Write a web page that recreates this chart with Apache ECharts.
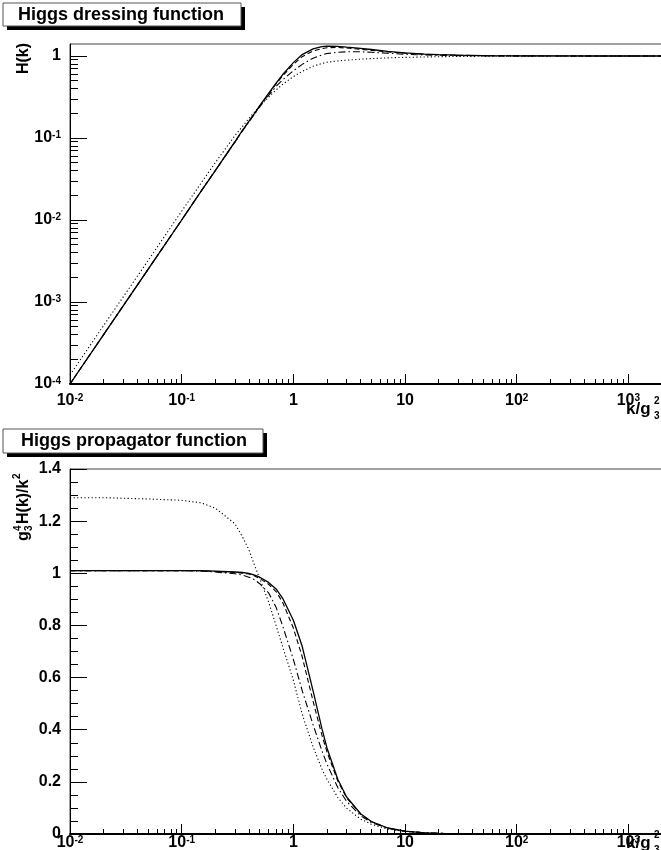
<!DOCTYPE html>
<html>
<head>
<meta charset="utf-8">
<script src="https://cdn.jsdelivr.net/npm/echarts@6/dist/echarts.min.js"></script>
<style>
html,body{margin:0;padding:0;background:#fff;}
#chart{width:661px;height:850px;}
</style>
</head>
<body>
<div id="chart"></div>
<script>
// k / g3^2 sample points
const kVals = [0.01, 0.02, 0.05, 0.1, 0.15, 0.2, 0.3, 0.35, 0.4, 0.45, 0.5, 0.6, 0.7, 0.8, 1, 1.2, 1.5, 1.8, 2, 2.5, 3, 4, 5, 7, 10, 15, 20, 30, 50, 100, 200, 500, 1000, 2000];

// Higgs dressing function H(k) (top panel)
const hSolid   = [1.0e-4, 4.0e-4, 2.5e-3, 1.0e-2, 0.0227, 0.040, 0.090, 0.1235, 0.160, 0.200, 0.248, 0.350, 0.465, 0.590, 0.83, 1.04, 1.22, 1.30, 1.32, 1.31, 1.28, 1.24, 1.20, 1.14, 1.09, 1.055, 1.038, 1.022, 1.011, 1.005, 1.002, 1.0, 1.0, 1.0];
const hDashed  = [1.0e-4, 4.0e-4, 2.5e-3, 1.0e-2, 0.0227, 0.0402, 0.090, 0.123, 0.159, 0.199, 0.245, 0.345, 0.455, 0.570, 0.79, 0.98, 1.15, 1.23, 1.26, 1.27, 1.25, 1.21, 1.17, 1.12, 1.08, 1.05, 1.035, 1.02, 1.01, 1.004, 1.001, 1.0, 1.0, 1.0];
const hDashDot = [1.0e-4, 4.0e-4, 2.5e-3, 1.0e-2, 0.0227, 0.0401, 0.089, 0.122, 0.157, 0.197, 0.240, 0.330, 0.425, 0.510, 0.66, 0.79, 0.94, 1.03, 1.07, 1.11, 1.125, 1.125, 1.11, 1.08, 1.05, 1.03, 1.02, 1.01, 1.005, 1.002, 1.0, 1.0, 1.0, 1.0];
const hDotted  = [1.29e-4, 5.16e-4, 3.2e-3, 0.0128, 0.0285, 0.050, 0.107, 0.138, 0.173, 0.209, 0.245, 0.315, 0.385, 0.450, 0.56, 0.65, 0.75, 0.81, 0.84, 0.87, 0.89, 0.915, 0.93, 0.948, 0.962, 0.973, 0.98, 0.987, 0.992, 0.996, 0.998, 1.0, 1.0, 1.0];

// Higgs propagator function g3^4 H(k)/k^2 (bottom panel)
const dSolid   = [1.01, 1.01, 1.01, 1.01, 1.01, 1.008, 1.005, 1.003, 1.0, 0.993, 0.985, 0.965, 0.94, 0.905, 0.82, 0.72, 0.55, 0.405, 0.33, 0.21, 0.142, 0.078, 0.048, 0.023, 0.011, 0.0047, 0.0026, 0.0011, 0.0004, 0.0001, 0, 0, 0, 0];
const dDashed  = [1.01, 1.01, 1.01, 1.01, 1.01, 1.007, 1.003, 1.0, 0.997, 0.99, 0.98, 0.958, 0.93, 0.89, 0.79, 0.68, 0.51, 0.38, 0.315, 0.203, 0.139, 0.076, 0.047, 0.0228, 0.0108, 0.0046, 0.0026, 0.0011, 0.0004, 0.0001, 0, 0, 0, 0];
const dDashDot = [1.01, 1.01, 1.01, 1.01, 1.008, 1.005, 0.998, 0.993, 0.985, 0.975, 0.96, 0.925, 0.87, 0.80, 0.67, 0.55, 0.42, 0.32, 0.268, 0.178, 0.125, 0.07, 0.044, 0.022, 0.0105, 0.0046, 0.0025, 0.0011, 0.0004, 0.0001, 0, 0, 0, 0];
const dDotted  = [1.29, 1.29, 1.285, 1.28, 1.27, 1.25, 1.19, 1.14, 1.09, 1.03, 0.98, 0.89, 0.80, 0.72, 0.59, 0.46, 0.335, 0.25, 0.21, 0.14, 0.099, 0.057, 0.037, 0.019, 0.0096, 0.0043, 0.0025, 0.0011, 0.0004, 0.0001, 0, 0, 0, 0];

// tick values
const xMajorTicks = [0.01, 0.1, 1, 10, 100, 1000];
const xMinorTicks = [0.02,0.03,0.04,0.05,0.06,0.07,0.08,0.09, 0.2,0.3,0.4,0.5,0.6,0.7,0.8,0.9, 2,3,4,5,6,7,8,9, 20,30,40,50,60,70,80,90, 200,300,400,500,600,700,800,900, 2000];
const yLogMajorTicks = [1e-4, 1e-3, 1e-2, 1e-1, 1];
const yLogMinorTicks = [2e-4,3e-4,4e-4,5e-4,6e-4,7e-4,8e-4,9e-4, 2e-3,3e-3,4e-3,5e-3,6e-3,7e-3,8e-3,9e-3, 0.02,0.03,0.04,0.05,0.06,0.07,0.08,0.09, 0.2,0.3,0.4,0.5,0.6,0.7,0.8,0.9];

const FONT = 'Liberation Sans, Arial, Helvetica, sans-serif';

function powLabel(v) {
  const e = Math.round(Math.log10(v));
  if (e === 0) return '1';
  if (e === 1) return '10';
  return '10{sup|' + e + '}';
}

const richSup = { sup: { fontSize: 10, fontWeight: 'bold', fontFamily: FONT, color: '#000', verticalAlign: 'top', lineHeight: 10 } };

function pairs(arr) { return kVals.map((k, i) => [k, arr[i]]); }

const styles = [
  { type: 'solid', w: 1.3 },
  { type: [5, 3], w: 1.1 },
  { type: [7, 3, 1.5, 3], w: 1.1 },
  { type: [1.2, 2.4], w: 1.1 }
];

function mkSeries(arrs, xi, yi) {
  return arrs.map((arr, i) => ({
    type: 'line',
    xAxisIndex: xi,
    yAxisIndex: yi,
    data: pairs(arr),
    showSymbol: false,
    symbol: 'none',
    smooth: false,
    lineStyle: { color: '#000', width: styles[i].w, type: styles[i].type },
    silent: true,
    z: 5 - i
  }));
}

function xMajor(grid, margin) {
  return {
    type: 'log', logBase: 10, gridIndex: grid, position: 'bottom', min: 0.01, max: 2000,
    axisLine: { show: true, onZero: false, lineStyle: { color: '#000', width: 2 } },
    axisTick: { show: true, inside: true, length: 10, customValues: xMajorTicks, lineStyle: { color: '#000', width: 1 } },
    axisLabel: { customValues: xMajorTicks, formatter: powLabel, fontFamily: FONT, fontWeight: 'bold', fontSize: 16, color: '#000', margin: margin, rich: richSup },
    splitLine: { show: false }, minorTick: { show: false }
  };
}
function xMinor(grid) {
  return {
    type: 'log', logBase: 10, gridIndex: grid, position: 'bottom', min: 0.01, max: 2000,
    axisLine: { show: false },
    axisTick: { show: true, inside: true, length: 5, customValues: xMinorTicks, lineStyle: { color: '#000', width: 1 } },
    axisLabel: { show: false },
    splitLine: { show: false }
  };
}

function textEl(x, y, text, font, align) {
  return { type: 'text', x: x, y: y, style: { text: text, font: font, fill: '#000', align: align || 'left', verticalAlign: 'middle', textAlign: align || 'left', textVerticalAlign: 'middle' } };
}

const option = {
  animation: false,
  backgroundColor: '#fff',
  grid: [
    { left: 70, top: 44, width: 592, height: 340, show: true, borderColor: '#444', borderWidth: 1, backgroundColor: '#fff', containLabel: false, outerBoundsMode: 'none' },
    { left: 70, top: 469, width: 592, height: 365, show: true, borderColor: '#444', borderWidth: 1, backgroundColor: '#fff', containLabel: false, outerBoundsMode: 'none' }
  ],
  xAxis: [xMajor(0, 9), xMinor(0), xMajor(1, 1), xMinor(1)],
  yAxis: [
    {
      type: 'log', logBase: 10, gridIndex: 0, position: 'left', min: 1e-4, max: 1.4,
      axisLine: { show: true, onZero: false, lineStyle: { color: '#000', width: 1 } },
      axisTick: { show: true, inside: true, length: 17, customValues: yLogMajorTicks, lineStyle: { color: '#000', width: 1 } },
      axisLabel: { customValues: yLogMajorTicks, formatter: powLabel, fontFamily: FONT, fontWeight: 'bold', fontSize: 16, color: '#000', margin: 9, rich: richSup },
      splitLine: { show: false }
    },
    {
      type: 'log', logBase: 10, gridIndex: 0, position: 'left', min: 1e-4, max: 1.4,
      axisLine: { show: false },
      axisTick: { show: true, inside: true, length: 8, customValues: yLogMinorTicks, lineStyle: { color: '#000', width: 1 } },
      axisLabel: { show: false },
      splitLine: { show: false }
    },
    {
      type: 'value', gridIndex: 1, position: 'left', min: 0, max: 1.4, interval: 0.2,
      axisLine: { show: true, onZero: false, lineStyle: { color: '#000', width: 1 } },
      axisTick: { show: true, inside: true, length: 17, lineStyle: { color: '#000', width: 1 } },
      minorTick: { show: true, splitNumber: 4, length: 8, lineStyle: { color: '#000', width: 1 } },
      axisLabel: { fontFamily: FONT, fontWeight: 'bold', fontSize: 16, color: '#000', margin: 9 },
      splitLine: { show: false }
    }
  ],
  series: [].concat(
    mkSeries([hSolid, hDashed, hDashDot, hDotted], 0, 0),
    mkSeries([dSolid, dDashed, dDashDot, dDotted], 2, 2)
  ),
  graphic: [
    // title box 1
    { type: 'rect', z: 10, shape: { x: 7, y: 7, width: 238, height: 23 }, style: { fill: '#000' } },
    { type: 'rect', z: 11, shape: { x: 3, y: 3, width: 238, height: 23 }, style: { fill: '#fff', stroke: '#555', lineWidth: 1 } },
    Object.assign(textEl(121, 15, 'Higgs dressing function', 'bold 18px ' + FONT, 'center'), { z: 12 }),
    // title box 2
    { type: 'rect', z: 10, shape: { x: 7, y: 433, width: 260, height: 24 }, style: { fill: '#000' } },
    { type: 'rect', z: 11, shape: { x: 3, y: 429, width: 260, height: 24 }, style: { fill: '#fff', stroke: '#555', lineWidth: 1 } },
    Object.assign(textEl(134, 441, 'Higgs propagator function', 'bold 18px ' + FONT, 'center'), { z: 12 }),
    // y title top
    Object.assign(textEl(24, 43, 'H(k)', 'bold 16px ' + FONT, 'right'), { z: 12, rotation: Math.PI / 2 }),
    // y title bottom: g_3^4 H(k)/k^2
    { type: 'group', x: 24, y: 541, rotation: Math.PI / 2, z: 12, children: [
      textEl(0, 0, 'g', 'bold 16px ' + FONT),
      textEl(10, -6, '4', 'bold 10px ' + FONT),
      textEl(10, 5, '3', 'bold 10px ' + FONT),
      textEl(17, 0, 'H(k)/k', 'bold 16px ' + FONT),
      textEl(62, -7, '2', 'bold 10px ' + FONT)
    ] },
    // x title top: k/g_3^2
    { type: 'group', x: 626, y: 409, z: 12, children: [
      textEl(0, 0, 'k/g', 'bold 17px ' + FONT),
      textEl(28, -8, '2', 'bold 10px ' + FONT),
      textEl(28, 7, '3', 'bold 10px ' + FONT)
    ] },
    // x title bottom
    { type: 'group', x: 626, y: 843, z: 12, children: [
      textEl(0, 0, 'k/g', 'bold 17px ' + FONT),
      textEl(28, -8, '2', 'bold 10px ' + FONT),
      textEl(28, 7, '3', 'bold 10px ' + FONT)
    ] }
  ]
};

const chart = echarts.init(document.getElementById('chart'), null, { renderer: 'canvas' });
chart.setOption(option);
</script>
</body>
</html>
